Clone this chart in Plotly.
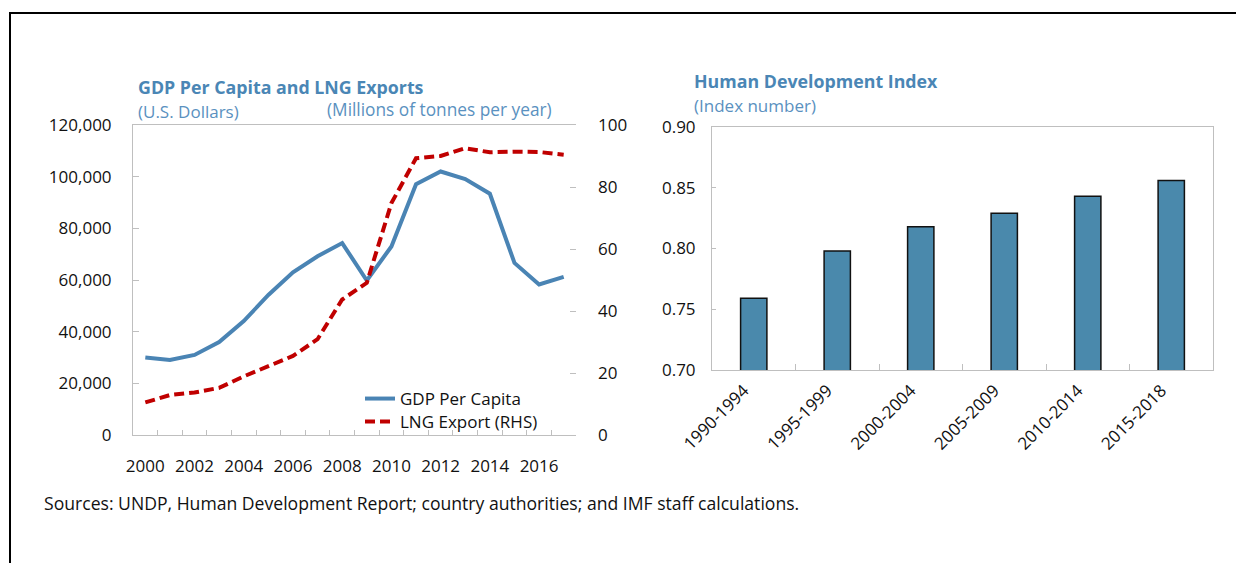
import plotly.graph_objects as go

W, H = 1244, 563
OX, OY = 8, 8  # page body margin of the browser

# ---- data ----
years = [str(y) for y in range(2000, 2018)]
year_labels = [y if int(y) % 2 == 0 else "" for y in years]
gdp_per_capita = [30000, 29000, 31000, 36000, 44100, 54200, 63000, 69200, 74300,
                  59800, 73000, 97100, 102000, 99100, 93400, 66600, 58300, 61200]
lng_export = [10.5, 12.9, 13.7, 15.2, 18.9, 22.1, 25.5, 30.9, 43.7,
              49.1, 74.8, 89.3, 90.0, 92.5, 91.2, 91.4, 91.3, 90.4]

hdi_periods = ["1990-1994", "1995-1999", "2000-2004", "2005-2009", "2010-2014", "2015-2018"]
hdi_values = [0.759, 0.798, 0.818, 0.829, 0.843, 0.856]

# ---- style ----
FONT = "Open Sans"
BLUE = "#4A84B4"
TITLE_BLUE = "#4A86B5"
SUB_BLUE = "#5A91C0"
RED = "#C00000"
BAR = "#4A89AC"
FRAME = "#BFBFBF"


def px_x(p):
    return (p - OX) / W


def px_y(p):
    return 1 - (p - OY) / H


fig = go.Figure()

fig.add_trace(go.Scatter(x=years, y=gdp_per_capita, name="GDP Per Capita",
                         mode="lines", line=dict(color=BLUE, width=4),
                         xaxis="x", yaxis="y", legend="legend"))
fig.add_trace(go.Scatter(x=years, y=lng_export, name="LNG Export (RHS)",
                         mode="lines", line=dict(color=RED, width=4, dash="10px,5px"),
                         xaxis="x", yaxis="y2", legend="legend2"))
fig.add_trace(go.Bar(x=hdi_periods, y=hdi_values, name="HDI", showlegend=False,
                     marker=dict(color=BAR, line=dict(color="#111111", width=1.5)),
                     xaxis="x2", yaxis="y3"))

tick_font = dict(family=FONT, size=17, color="#111111")
leg_font = dict(family=FONT, size=17, color="#111111")

fig.update_layout(
    width=W, height=H,
    margin=dict(l=0, r=0, t=0, b=0, autoexpand=False),
    paper_bgcolor="white", plot_bgcolor="white",
    font=dict(family=FONT, size=17, color="#111111"),
    bargap=0.685,
    xaxis=dict(domain=[px_x(133), px_x(576)], anchor="y", type="category",
               range=[-0.5, 17.5], tickvals=years, ticktext=year_labels,
               tickson="boundaries", ticks="inside", ticklen=5, tickcolor=FRAME,
               showline=True, linecolor=FRAME, linewidth=1, mirror=True,
               showgrid=False, zeroline=False, tickangle=0, automargin=False,
               tickfont=tick_font, ticklabelstandoff=16),
    yaxis=dict(domain=[px_y(435), px_y(125)], anchor="x", range=[0, 120000],
               dtick=20000, tickformat=",d", ticks="inside", ticklen=6,
               tickcolor=FRAME, showline=True, linecolor=FRAME, linewidth=1,
               showgrid=False, zeroline=False, tickfont=tick_font, automargin=False,
               ticklabelstandoff=17),
    yaxis2=dict(overlaying="y", side="right", anchor="x", range=[0, 100],
                dtick=20, ticks="inside", ticklen=6, tickcolor=FRAME,
                showline=False, showgrid=False, zeroline=False, automargin=False,
                tickfont=tick_font, ticklabelstandoff=21),
    xaxis2=dict(domain=[px_x(712), px_x(1213)], anchor="y3", type="category",
                tickson="boundaries", ticks="inside", ticklen=6, tickcolor=FRAME,
                showline=True, linecolor=FRAME, linewidth=1, mirror=True,
                showgrid=False, zeroline=False, tickangle=-45, automargin=False,
                tickfont=tick_font, ticklabelstandoff=3, ticklabelshift=-10),
    yaxis3=dict(domain=[px_y(370), px_y(127)], anchor="x2", range=[0.70, 0.90],
                dtick=0.05, tickformat=".2f", ticks="inside", ticklen=4,
                tickcolor=FRAME, showline=True, linecolor=FRAME, linewidth=1,
                mirror=True, showgrid=False, zeroline=False, automargin=False,
                tickfont=tick_font, ticklabelstandoff=12),
    legend=dict(x=px_x(360), y=px_y(381), xanchor="left", yanchor="top",
                bgcolor="rgba(0,0,0,0)", font=leg_font, itemwidth=30),
    legend2=dict(x=px_x(360), y=px_y(404), xanchor="left", yanchor="top",
                 bgcolor="rgba(0,0,0,0)", font=leg_font, itemwidth=30),
)

annotations = [
    dict(text="<b>GDP Per Capita and LNG Exports</b>", x=px_x(136), y=px_y(87),
         font=dict(family=FONT, size=17.8, color=TITLE_BLUE)),
    dict(text="(U.S. Dollars)", x=px_x(136), y=px_y(111),
         font=dict(family=FONT, size=17, color=SUB_BLUE)),
    dict(text="(Millions of tonnes per year)", x=px_x(325), y=px_y(110),
         font=dict(family=FONT, size=17.3, color=SUB_BLUE)),
    dict(text="<b>Human Development Index</b>", x=px_x(692), y=px_y(81),
         font=dict(family=FONT, size=17.8, color=TITLE_BLUE)),
    dict(text="(Index number)", x=px_x(692), y=px_y(106),
         font=dict(family=FONT, size=17, color=SUB_BLUE)),
    dict(text="Sources: UNDP, Human Development Report; country authorities; and IMF staff calculations.",
         x=px_x(42), y=px_y(503), font=dict(family=FONT, size=17.6, color="#111111")),
]
for a in annotations:
    a.update(xref="paper", yref="paper", xanchor="left", yanchor="middle",
             showarrow=False)
fig.update_layout(annotations=annotations)

fig.update_layout(shapes=[
    dict(type="line", xref="paper", yref="paper", x0=px_x(9), x1=1.0,
         y0=px_y(13), y1=px_y(13), line=dict(color="black", width=2)),
    dict(type="line", xref="paper", yref="paper", x0=px_x(10), x1=px_x(10),
         y0=px_y(12), y1=0.0, line=dict(color="black", width=2)),
])

fig.write_html("out.html")
